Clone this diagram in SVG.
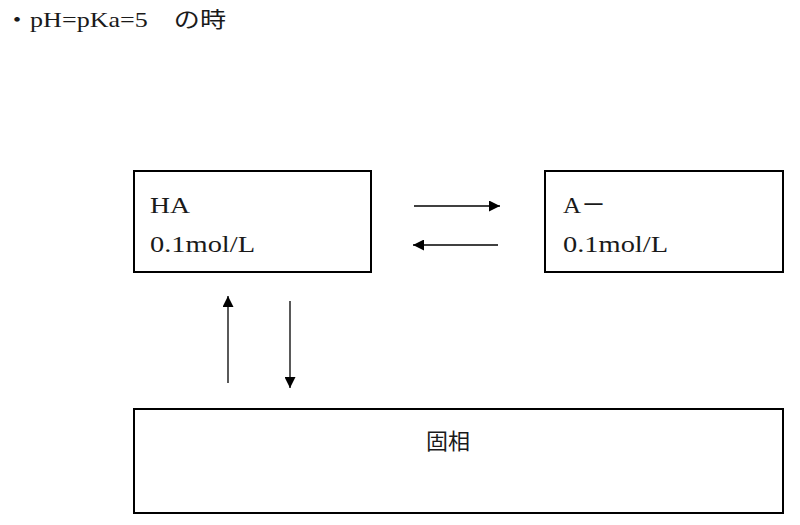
<svg xmlns="http://www.w3.org/2000/svg" width="800" height="525" viewBox="0 0 800 525">
<style>
text{font-family:"Liberation Serif","Noto Sans CJK JP",serif;font-size:24px;fill:#1a1a1a}
.box{fill:#fff;stroke:#000;stroke-width:2}
.ln{stroke:#000;stroke-width:1.3;fill:none}
</style>
<defs>
<marker id="ah" viewBox="0 0 10 10" refX="10" refY="5" markerWidth="13" markerHeight="11" markerUnits="userSpaceOnUse" orient="auto"><path d="M0,0L10,5L0,10z" fill="#000"/></marker>
</defs>
<rect width="800" height="525" fill="#fff"/>
<text x="4" y="27" textLength="222" lengthAdjust="spacingAndGlyphs" style="font-size:22px">・pH=pKa=5　の時</text>
<g id="ha"><rect class="box" x="134" y="171" width="237" height="101"/><text x="150" y="213" textLength="40" lengthAdjust="spacingAndGlyphs">HA</text><text x="150" y="252" textLength="105" lengthAdjust="spacingAndGlyphs">0.1mol/L</text></g>
<g id="a"><rect class="box" x="545" y="171" width="238" height="101"/><text x="563" y="213" textLength="43" lengthAdjust="spacingAndGlyphs">A－</text><text x="563" y="252" textLength="105" lengthAdjust="spacingAndGlyphs">0.1mol/L</text></g>
<g id="solid"><rect class="box" x="134" y="409" width="649" height="104"/><text x="448" y="449" text-anchor="middle" style="font-size:22px">固相</text></g>
<g id="connectors">
<line class="ln" x1="414" y1="206" x2="500" y2="206" marker-end="url(#ah)"/>
<line class="ln" x1="498" y1="245" x2="413" y2="245" marker-end="url(#ah)"/>
<line class="ln" x1="228" y1="383" x2="228" y2="296" marker-end="url(#ah)"/>
<line class="ln" x1="290" y1="301" x2="290" y2="388" marker-end="url(#ah)"/>
</g>
</svg>
